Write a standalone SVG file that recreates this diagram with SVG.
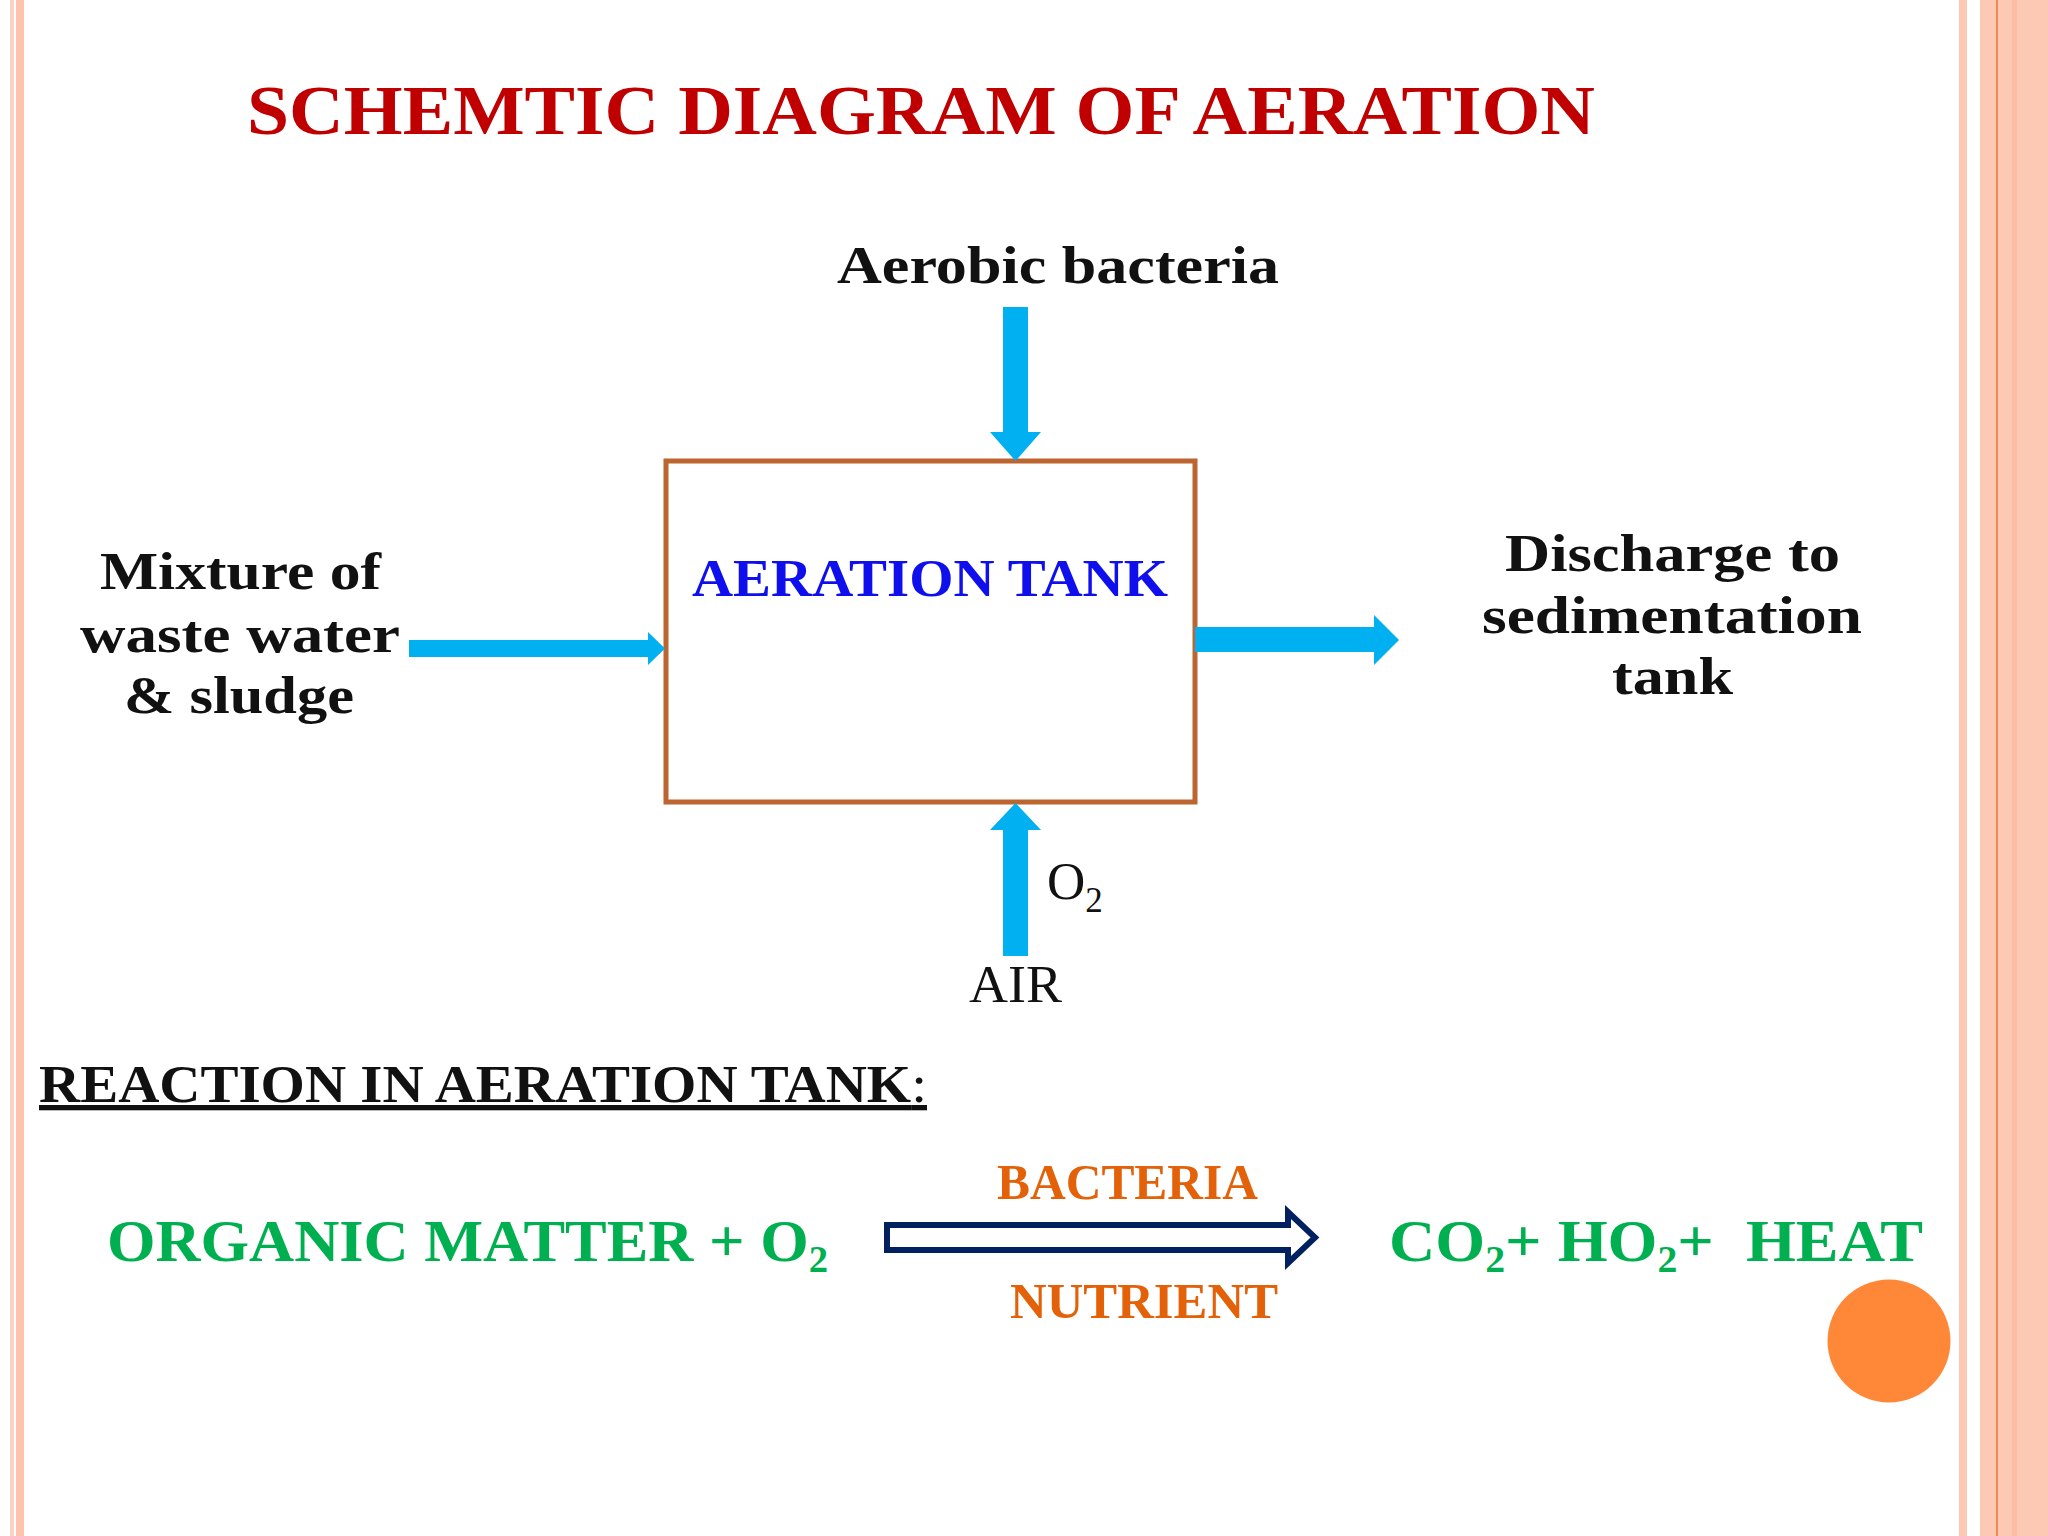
<svg xmlns="http://www.w3.org/2000/svg" width="2048" height="1536" viewBox="0 0 2048 1536">
<defs><style>
.s{font-family:"Liberation Serif","Times New Roman",serif;font-weight:700}
.k{fill:#111;font-size:53px}
.g{fill:#00b050;font-size:60px;white-space:pre}
.o{fill:#e36209;font-size:50px}
.a{fill:#00b0f0}
.sub{font-size:62%;baseline-shift:-.3em}
.sub2{font-size:66%;baseline-shift:-.38em}
</style></defs>
<rect width="2048" height="1536" fill="#fff"/>
<g id="decor">
<rect x="10" width="4" height="1536" fill="#fcd2c3"/>
<rect x="16" width="8" height="1536" fill="#fdc3ae"/>
<rect x="1959" width="8" height="1536" fill="#fcc9b5"/>
<rect x="1980" width="68" height="1536" fill="#fdc8b4"/>
<rect x="1996" width="2" height="1536" fill="#f28a55"/>
<rect x="2012" width="5" height="1536" fill="#fdbca5"/>
<circle cx="1889" cy="1341" r="61.500" fill="#ff8838"/>
</g>
<g id="title"><text class="s" x="247" y="134" font-size="70" fill="#c00000" textLength="1348" lengthAdjust="spacingAndGlyphs">SCHEMTIC DIAGRAM OF AERATION</text></g>
<g id="tank"><rect x="666" y="461" width="529" height="341" fill="#fff" stroke="#bd6530" stroke-width="5"/>
<text class="s" x="692" y="596" font-size="52" fill="#0f0fee" textLength="476" lengthAdjust="spacingAndGlyphs">AERATION TANK</text></g>
<g id="connectors">
<polygon class="a" points="1003,307 1028,307 1028,432 1041,432 1015.500,461 990,432 1003,432"/>
<polygon class="a" points="1003,956 1028,956 1028,830 1041,830 1015.500,803 990,830 1003,830"/>
<polygon class="a" points="409,640 648,640 648,632 665,648.500 648,665 648,657 409,657"/>
<polygon class="a" points="1195,627 1374,627 1374,615 1399,640 1374,665 1374,652 1195,652"/>
<polygon points="887,1225 1288,1225 1288,1212 1315,1237.500 1288,1263 1288,1250 887,1250" fill="#fff" stroke="#002060" stroke-width="6"/>
</g>
<g id="bacteria"><text class="s k" x="837" y="283" textLength="442" lengthAdjust="spacingAndGlyphs">Aerobic bacteria</text></g>
<g id="input" class="s k"><text x="100" y="589" textLength="281" lengthAdjust="spacingAndGlyphs">Mixture of</text><text x="80" y="652" textLength="320" lengthAdjust="spacingAndGlyphs">waste water</text><text x="124" y="713" textLength="230" lengthAdjust="spacingAndGlyphs">&amp; sludge</text></g>
<g id="output" class="s k"><text x="1505" y="571" textLength="335" lengthAdjust="spacingAndGlyphs">Discharge to</text><text x="1482" y="633" textLength="380" lengthAdjust="spacingAndGlyphs">sedimentation</text><text x="1612" y="694" textLength="121" lengthAdjust="spacingAndGlyphs">tank</text></g>
<g id="labels" font-family="Liberation Serif,serif" fill="#111" font-size="53"><text x="1047" y="899">O<tspan class="sub2">2</tspan></text><text x="969" y="1002" textLength="93" lengthAdjust="spacingAndGlyphs">AIR</text></g>
<g id="reaction"><text x="39" y="1102" font-family="Liberation Serif,serif" font-size="53" fill="#111" style="text-decoration:underline;text-decoration-thickness:3px" textLength="888" lengthAdjust="spacingAndGlyphs"><tspan font-weight="700">REACTION IN AERATION TANK</tspan>:</text></g>
<g id="equation" class="s">
<text class="g" x="107" y="1261" textLength="721" lengthAdjust="spacingAndGlyphs">ORGANIC MATTER + O<tspan class="sub">2</tspan></text>
<text class="g" x="1389" y="1261" textLength="534" lengthAdjust="spacingAndGlyphs">CO<tspan class="sub">2</tspan>+ HO<tspan class="sub">2</tspan>+  HEAT</text>
<text class="o" x="997" y="1199" textLength="261" lengthAdjust="spacingAndGlyphs">BACTERIA</text><text class="o" x="1010" y="1318" textLength="268" lengthAdjust="spacingAndGlyphs">NUTRIENT</text></g>
</svg>
